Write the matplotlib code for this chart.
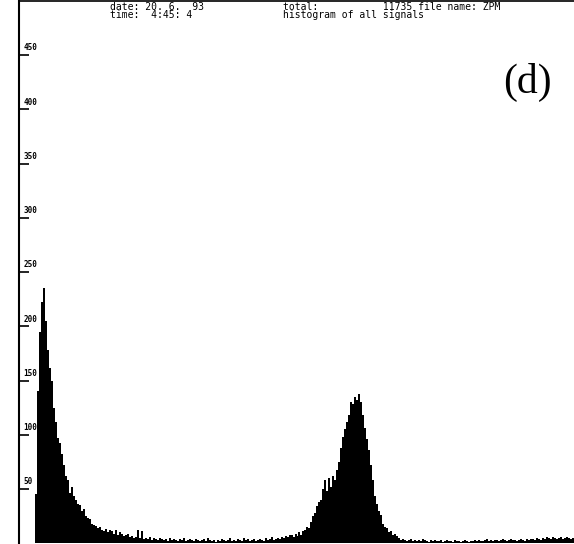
import numpy as np
import matplotlib
matplotlib.use("Agg")
import matplotlib.pyplot as plt
import matplotlib.transforms as mtrans

# histogram channels (2 px each in the scan), counts
counts = [
    0, 0, 0, 0, 0, 0, 0, 0, 45, 140,
    195, 222, 235, 205, 178, 162, 150, 125, 112, 97,
    92, 82, 72, 62, 58, 46, 52, 44, 40, 36,
    35, 30, 32, 25, 23, 22, 18, 17, 16, 14,
    15, 12, 11, 13, 10, 12, 11, 9, 12, 8,
    10, 9, 7, 8, 9, 6, 7, 5, 6, 12,
    5, 11, 4, 5, 4, 6, 3, 5, 4, 3,
    5, 4, 3, 4, 2, 5, 3, 4, 3, 2,
    4, 3, 5, 2, 3, 4, 3, 2, 4, 3,
    2, 3, 4, 2, 5, 3, 2, 3, 1, 3,
    2, 4, 3, 2, 3, 5, 2, 3, 2, 4,
    3, 2, 5, 3, 4, 2, 3, 4, 2, 3,
    4, 3, 2, 5, 3, 4, 6, 3, 4, 5,
    4, 6, 5, 7, 6, 8, 8, 6, 9, 7,
    10, 8, 11, 12, 15, 14, 20, 25, 28, 34,
    38, 40, 50, 58, 48, 60, 52, 62, 58, 68,
    75, 88, 98, 105, 112, 118, 130, 128, 135, 132,
    138, 130, 118, 106, 96, 86, 72, 58, 44, 36,
    30, 26, 18, 15, 14, 10, 11, 8, 9, 7,
    5, 3, 4, 3, 2, 3, 4, 2, 3, 2,
    3, 2, 4, 3, 2, 1, 3, 2, 3, 2,
    2, 3, 1, 2, 3, 2, 2, 1, 3, 2,
    2, 1, 2, 3, 2, 1, 2, 2, 3, 2,
    3, 2, 2, 3, 4, 2, 3, 2, 3, 3,
    2, 3, 4, 3, 2, 3, 4, 3, 3, 2,
    3, 4, 3, 2, 4, 3, 4, 4, 3, 5,
    4, 3, 5, 4, 6, 5, 4, 6, 5, 4,
    5, 6, 4, 5, 6, 5, 4, 5,
]
channels = np.arange(len(counts))
yticks = [50, 100, 150, 200, 250, 300, 350, 400, 450]
ylabels = ["50", "100", "150", "200", "250", "300", "350", "400", "450"]

W, H = 574, 544
top_px, base_px = 1, 543.3
fig = plt.figure(figsize=(W / 100, H / 100), dpi=100)
ax = fig.add_axes([19 / W, (H - base_px) / H, (W - 19) / W, (base_px - top_px) / H])

ax.bar(channels, counts, width=1.0, align="edge", color="black", linewidth=0, zorder=3)
ax.set_xlim(0, len(counts))
ax.set_ylim(0, (base_px - top_px) / 1.085)

ax.set_xticks([])
ax.set_yticks(yticks)
ax.set_yticklabels(ylabels, family="DejaVu Sans Mono", fontsize=5.5,
                   fontweight="bold", ha="left", va="bottom")
ax.tick_params(axis="y", direction="in", length=7, width=1.2, pad=-3)
shift = mtrans.ScaledTranslation(0, 2 / 72, fig.dpi_scale_trans)
for lab in ax.get_yticklabels():
    lab.set_transform(lab.get_transform() + shift)
    lab.set_zorder(1)

for s in ["right", "bottom"]:
    ax.spines[s].set_visible(False)
ax.spines["left"].set_linewidth(1.5)
ax.spines["top"].set_linewidth(1.2)

# header printed by the acquisition program (two lines per block)
mono = dict(family="DejaVu Sans Mono", fontsize=7, va="top", linespacing=0.7)
fig.text(110 / W, 1 - 2.5 / H, "date: 20. 6.  93\ntime:  4:45: 4", **mono)
fig.text(283 / W, 1 - 2.5 / H,
         "total:           11735 file name: ZPM\nhistogram of all signals", **mono)

fig.text(527 / W, 1 - 82 / H, "(d)", family="Liberation Serif", fontsize=30,
         ha="center", va="center")

fig.savefig("out.png", dpi=100)
